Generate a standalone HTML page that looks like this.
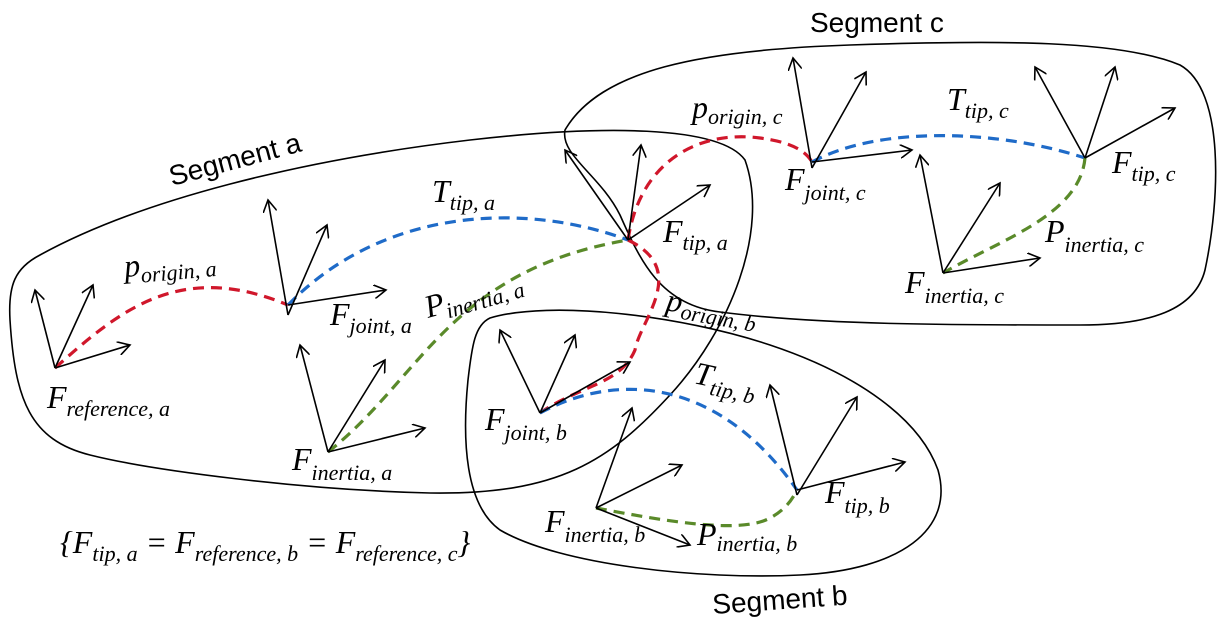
<!DOCTYPE html>
<html><head><meta charset="utf-8"><style>
html,body{margin:0;padding:0;background:#fff;}
svg{display:block;}
.l{font-family:"Liberation Serif",serif;font-style:italic;font-size:32px;fill:#000;}
.s{font-size:22px;}
.seg{font-family:"Liberation Sans",sans-serif;font-size:28px;fill:#000;}
.ol{fill:none;stroke:#000;stroke-width:1.6;}
.ar{stroke:#000;stroke-width:1.6;fill:none;}
.d{fill:none;stroke-width:3.2;stroke-dasharray:11 7;}
</style></head><body>
<svg width="1222" height="625" viewBox="0 0 1222 625">
<defs><marker id="ah" markerWidth="14" markerHeight="14" refX="12" refY="7" orient="auto" markerUnits="userSpaceOnUse"><path d="M0,0 L12,7 L0,14" fill="none" stroke="#000" stroke-width="1.6"/></marker></defs>

<path class="ol" d="M40,255 C140,200 300,160 470,140 C600,125 720,125 745,160 C770,230 730,330 670,395 C610,460 560,495 430,493 C300,490 150,470 90,455 C30,440 15,400 10,320 C8,285 15,268 40,255 Z"/>
<path class="ol" d="M565,130 C600,70 700,50 850,45 C1000,40 1120,40 1180,65 C1225,90 1220,200 1205,270 C1195,310 1150,325 1080,325 C950,325 820,325 720,312 C660,305 640,260 620,215 C600,175 560,155 565,130 Z"/>
<path class="ol" d="M490,318 C550,300 680,315 770,345 C860,375 920,420 938,470 C955,530 900,570 800,575 C700,580 560,565 500,530 C465,505 462,440 468,380 C472,345 475,325 490,318 Z"/>

<text class="seg" x="172" y="186" transform="rotate(-15 172 186)">Segment a</text>
<text class="seg" x="810" y="32">Segment c</text>
<text class="seg" x="713" y="614" transform="rotate(-4 713 614)">Segment b</text>

<g>
<path class="d" stroke="#d0172b" d="M55,368 C120,310 180,260 288,305"/>
<path class="d" stroke="#1f6bc8" d="M288,305 C380,210 520,200 628,240"/>
<path class="d" stroke="#5a8a2a" d="M328,452 C420,380 450,270 628,240"/>
<path class="d" stroke="#d0172b" d="M628,240 C640,160 700,130 760,138 C790,142 805,150 812,162"/>
<path class="d" stroke="#d0172b" d="M628,240 C690,270 640,320 635,350 C620,385 580,385 540,413"/>
<path class="d" stroke="#1f6bc8" d="M812,162 C880,125 1000,130 1085,158"/>
<path class="d" stroke="#5a8a2a" d="M1085,158 C1080,215 1000,240 943,273"/>
<path class="d" stroke="#1f6bc8" d="M540,413 C620,370 720,380 797,490"/>
<path class="d" stroke="#5a8a2a" d="M596,508 C660,520 740,535 770,518 C785,510 792,500 797,490"/>
</g>

<g><line class="ar" x1="55" y1="368" x2="35" y2="290" marker-end="url(#ah)"/><line class="ar" x1="55" y1="368" x2="93" y2="285" marker-end="url(#ah)"/><line class="ar" x1="55" y1="368" x2="130" y2="345" marker-end="url(#ah)"/></g>
<g><line class="ar" x1="288" y1="315" x2="268" y2="200" marker-end="url(#ah)"/><line class="ar" x1="288" y1="315" x2="327" y2="225" marker-end="url(#ah)"/><line class="ar" x1="288" y1="305" x2="386" y2="290" marker-end="url(#ah)"/></g>
<g><line class="ar" x1="328" y1="452" x2="300" y2="345" marker-end="url(#ah)"/><line class="ar" x1="328" y1="452" x2="385" y2="360" marker-end="url(#ah)"/><line class="ar" x1="328" y1="452" x2="425" y2="428" marker-end="url(#ah)"/></g>
<g><line class="ar" x1="628" y1="240" x2="565" y2="150" marker-end="url(#ah)"/><line class="ar" x1="628" y1="240" x2="641" y2="145" marker-end="url(#ah)"/><line class="ar" x1="628" y1="240" x2="710" y2="185" marker-end="url(#ah)"/></g>
<g><line class="ar" x1="540" y1="413" x2="500" y2="330" marker-end="url(#ah)"/><line class="ar" x1="540" y1="413" x2="575" y2="335" marker-end="url(#ah)"/><line class="ar" x1="540" y1="413" x2="630" y2="362" marker-end="url(#ah)"/></g>
<g><line class="ar" x1="596" y1="508" x2="632" y2="408" marker-end="url(#ah)"/><line class="ar" x1="596" y1="508" x2="682" y2="465" marker-end="url(#ah)"/><line class="ar" x1="596" y1="508" x2="690" y2="545" marker-end="url(#ah)"/></g>
<g><line class="ar" x1="797" y1="495" x2="770" y2="385" marker-end="url(#ah)"/><line class="ar" x1="797" y1="495" x2="857" y2="397" marker-end="url(#ah)"/><line class="ar" x1="797" y1="490" x2="905" y2="462" marker-end="url(#ah)"/></g>
<g><line class="ar" x1="812" y1="168" x2="793" y2="58" marker-end="url(#ah)"/><line class="ar" x1="812" y1="168" x2="866" y2="72" marker-end="url(#ah)"/><line class="ar" x1="812" y1="162" x2="912" y2="150" marker-end="url(#ah)"/></g>
<g><line class="ar" x1="1085" y1="158" x2="1035" y2="67" marker-end="url(#ah)"/><line class="ar" x1="1085" y1="158" x2="1115" y2="67" marker-end="url(#ah)"/><line class="ar" x1="1085" y1="158" x2="1175" y2="108" marker-end="url(#ah)"/></g>
<g><line class="ar" x1="943" y1="273" x2="920" y2="155" marker-end="url(#ah)"/><line class="ar" x1="943" y1="273" x2="1000" y2="183" marker-end="url(#ah)"/><line class="ar" x1="943" y1="273" x2="1040" y2="258" marker-end="url(#ah)"/></g>

<text class="l" x="125" y="277" transform="rotate(-5 125 277)">p<tspan class="s" dy="7">origin, a</tspan></text>
<text class="l" x="47" y="408">F<tspan class="s" dy="8">reference, a</tspan></text>
<text class="l" x="330" y="325">F<tspan class="s" dy="8">joint, a</tspan></text>
<text class="l" x="292" y="470">F<tspan class="s" dy="10">inertia, a</tspan></text>
<text class="l" x="432" y="202">T<tspan class="s" dy="8">tip, a</tspan></text>
<text class="l" x="428" y="318" transform="rotate(-16 428 318)">P<tspan class="s" dy="6">inertia, a</tspan></text>
<text class="l" x="663" y="242">F<tspan class="s" dy="8">tip, a</tspan></text>
<text class="l" x="692" y="118">p<tspan class="s" dy="6">origin, c</tspan></text>
<text class="l" x="785" y="190">F<tspan class="s" dy="10">joint, c</tspan></text>
<text class="l" x="947" y="110">T<tspan class="s" dy="8">tip, c</tspan></text>
<text class="l" x="1112" y="173">F<tspan class="s" dy="8">tip, c</tspan></text>
<text class="l" x="1045" y="242">P<tspan class="s" dy="10">inertia, c</tspan></text>
<text class="l" x="905" y="293">F<tspan class="s" dy="10">inertia, c</tspan></text>
<text class="l" x="665" y="310" transform="rotate(10 665 310)">p<tspan class="s" dy="6">origin, b</tspan></text>
<text class="l" x="693" y="383" transform="rotate(12 693 383)">T<tspan class="s" dy="8">tip, b</tspan></text>
<text class="l" x="485" y="430">F<tspan class="s" dy="10">joint, b</tspan></text>
<text class="l" x="825" y="503">F<tspan class="s" dy="10">tip, b</tspan></text>
<text class="l" x="545" y="532">F<tspan class="s" dy="10">inertia, b</tspan></text>
<text class="l" x="697" y="545">P<tspan class="s" dy="6">inertia, b</tspan></text>
<text class="l" x="60" y="553">{F<tspan class="s" dy="8">tip, a</tspan><tspan dy="-8"> = F</tspan><tspan class="s" dy="8">reference, b</tspan><tspan dy="-8"> = F</tspan><tspan class="s" dy="8">reference, c</tspan><tspan dy="-8">}</tspan></text>
</svg>
</body></html>
